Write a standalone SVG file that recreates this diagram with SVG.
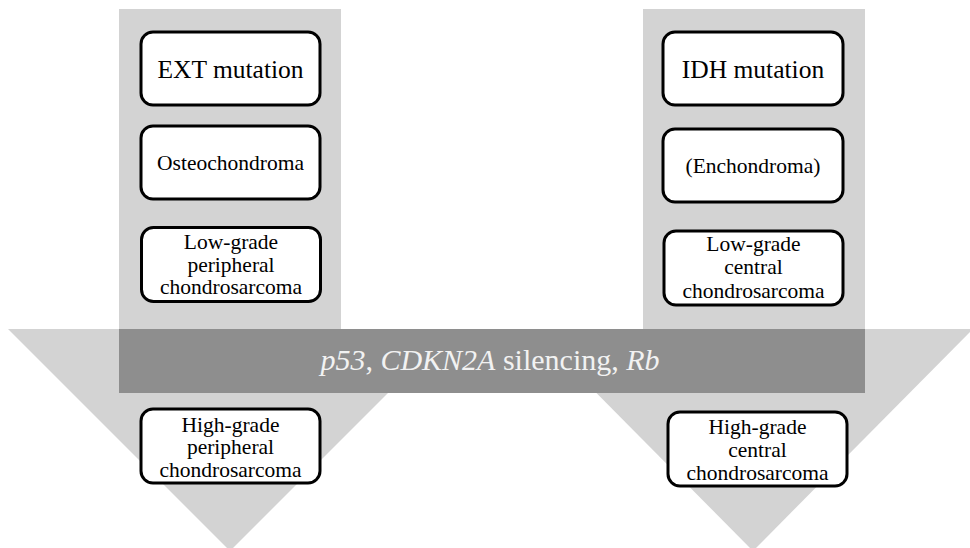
<svg xmlns="http://www.w3.org/2000/svg" width="970" height="548" viewBox="0 0 970 548">
  <style>
    .arrow { fill: #d3d3d3; }
    .band { fill: #8e8e8e; }
    .box { fill: #ffffff; stroke: #000000; stroke-width: 3; }
    text { font-family: "Liberation Serif", "Times New Roman", serif; }
    .t { fill: #000000; text-anchor: middle; }
    .big { font-size: 25.5px; }
    .small { font-size: 21.5px; }
    .band-text { font-size: 30px; fill: #f2f2f2; text-anchor: middle; }
    .it { font-style: italic; }
  </style>

  <!-- block arrows -->
  <g id="arrow-peripheral">
    <rect class="arrow" x="119" y="9" width="222" height="330"/>
    <polygon class="arrow" points="8,329 452,329 230,551"/>
  </g>
  <g id="arrow-central">
    <rect class="arrow" x="643" y="9" width="222" height="330"/>
    <polygon class="arrow" points="533,329 973,329 753,551"/>
  </g>

  <!-- shared progression band -->
  <g id="band">
    <rect class="band" x="119" y="329" width="746" height="64"/>
    <text class="band-text" x="490" y="370"><tspan class="it">p53</tspan>, <tspan class="it">CDKN2A</tspan> silencing, <tspan class="it">Rb</tspan></text>
  </g>

  <!-- peripheral pathway -->
  <g id="ext-mutation">
    <rect class="box" x="141" y="32" width="179" height="73" rx="12"/>
    <text class="t big" x="230.5" y="78">EXT mutation</text>
  </g>
  <g id="osteochondroma">
    <rect class="box" x="141" y="126" width="179" height="73" rx="12"/>
    <text class="t small" x="230.5" y="170">Osteochondroma</text>
  </g>
  <g id="low-grade-peripheral">
    <rect class="box" x="141.5" y="227.5" width="179" height="74" rx="12"/>
    <text class="t small" x="231" y="248.5">Low-grade</text>
    <text class="t small" x="231" y="271.5">peripheral</text>
    <text class="t small" x="231" y="294">chondrosarcoma</text>
  </g>
  <g id="high-grade-peripheral">
    <rect class="box" x="141" y="409" width="179" height="74" rx="12"/>
    <text class="t small" x="230.5" y="431.5">High-grade</text>
    <text class="t small" x="230.5" y="454">peripheral</text>
    <text class="t small" x="230.5" y="476.5">chondrosarcoma</text>
  </g>

  <!-- central pathway -->
  <g id="idh-mutation">
    <rect class="box" x="663" y="32" width="180" height="73" rx="12"/>
    <text class="t big" x="753" y="78">IDH mutation</text>
  </g>
  <g id="enchondroma">
    <rect class="box" x="663" y="129" width="180" height="73" rx="12"/>
    <text class="t small" x="753" y="173">(Enchondroma)</text>
  </g>
  <g id="low-grade-central">
    <rect class="box" x="664" y="231" width="179" height="74" rx="12"/>
    <text class="t small" x="753.5" y="251">Low-grade</text>
    <text class="t small" x="753.5" y="274">central</text>
    <text class="t small" x="753.5" y="297.5">chondrosarcoma</text>
  </g>
  <g id="high-grade-central">
    <rect class="box" x="668" y="412" width="179" height="74" rx="12"/>
    <text class="t small" x="757.5" y="433.5">High-grade</text>
    <text class="t small" x="757.5" y="456.5">central</text>
    <text class="t small" x="757.5" y="480">chondrosarcoma</text>
  </g>

  <!-- no connectors: progression is shown by the block arrows -->
  <g id="connectors"/>
</svg>
